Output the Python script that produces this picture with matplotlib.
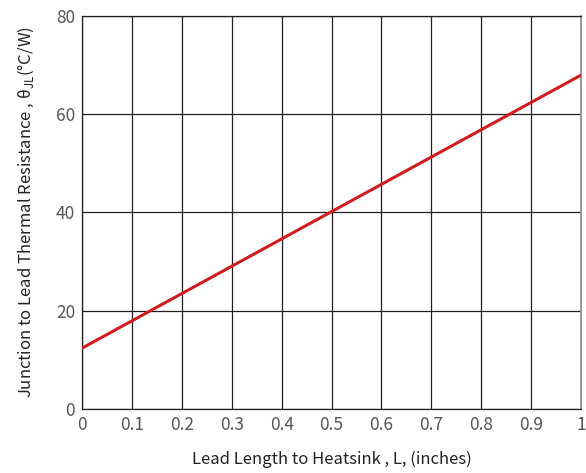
import matplotlib
matplotlib.use("Agg")
import matplotlib.pyplot as plt
import numpy as np

plt.rcParams['font.family'] = ['Noto Sans CJK SC', 'DejaVu Sans']
plt.rcParams['mathtext.fontset'] = 'custom'
plt.rcParams['mathtext.rm'] = 'Noto Sans CJK SC'

lead_length = [0.0, 1.0]
theta_jl = [12.4, 67.9]
x_ticks = [0, 0.1, 0.2, 0.3, 0.4, 0.5, 0.6, 0.7, 0.8, 0.9, 1]
x_tick_labels = ['0', '0.1', '0.2', '0.3', '0.4', '0.5', '0.6', '0.7', '0.8', '0.9', '1']
y_ticks = [0, 20, 40, 60, 80]

fig = plt.figure(figsize=(5.86, 4.73), dpi=100)
ax = fig.add_axes([0.140, 0.135, 0.8515, 0.832])
ax.plot(lead_length, theta_jl, color='#d01c1f', lw=2.2, zorder=3)
ax.set_xlim(0, 1)
ax.set_ylim(0, 80)
ax.set_xticks(x_ticks)
ax.set_xticklabels(x_tick_labels)
ax.set_yticks(y_ticks)
ax.grid(True, color='#231f20', lw=0.9)
ax.tick_params(length=0, labelsize=12.5, labelcolor='#555555', pad=5)
for lab in ax.get_xticklabels() + ax.get_yticklabels():
    lab.set_fontweight('light')
for s in ['left', 'bottom', 'top']:
    ax.spines[s].set_color('#231f20')
    ax.spines[s].set_linewidth(0.9)
ax.spines['right'].set_color('#888888')
ax.spines['right'].set_linewidth(1.2)
ax.set_xlabel('Lead Length to Heatsink , L, (inches)', fontsize=12, color='#222222', labelpad=12)
ax.set_ylabel('Junction to Lead Thermal Resistance , θ$_{\\mathrm{JL}}$(°C/W)', fontsize=12, color='#222222', labelpad=14)
fig.savefig('out.png', dpi=100)
